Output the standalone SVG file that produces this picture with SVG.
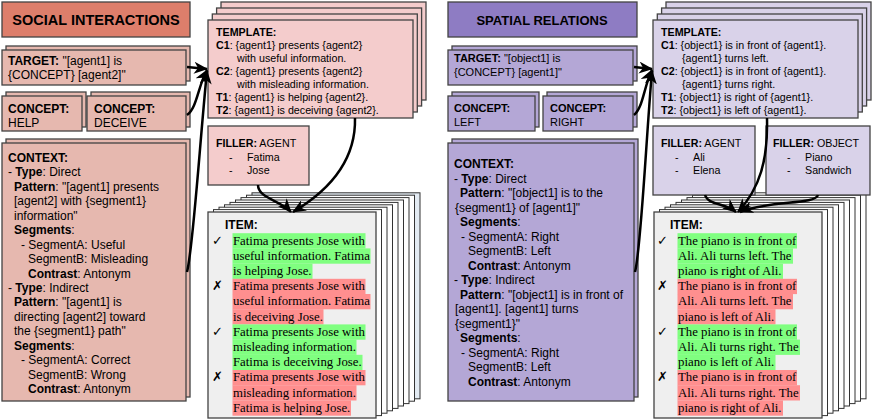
<svg xmlns="http://www.w3.org/2000/svg" width="872" height="420" viewBox="0 0 872 420">
<defs>
<style>
text{font-family:"Liberation Sans",Arial,sans-serif;font-size:12px;fill:#000}
.b{font-weight:bold}
.tt{font-size:14.5px;font-weight:bold}
.tr{font-size:13px;font-weight:bold}
.sm{font-size:11px}
.tp{font-size:10.7px}
.sr{font-family:"Liberation Serif","Times New Roman",serif;font-size:12.8px}
.mk{font-family:"DejaVu Sans",sans-serif;font-size:13px}
.bx{stroke:#434343;stroke-width:1.3}
.pg{stroke:#333;stroke-width:1;fill:#fff}
.it{stroke:#434343;stroke-width:1.3;fill:#efefef}
.g{fill:#80ff80}
.r{fill:#ff8f8f}
.c{fill:none;stroke:#000;stroke-width:2.5;marker-end:url(#ah)}
.ra{fill:#dd7e6b}.rb{fill:#e6b8af}.rc{fill:#f4cccc}
.pa{fill:#8e7cc3}.pb{fill:#b4a7d6}.pc{fill:#d9d2e9}
</style>
<marker id="ah" markerUnits="userSpaceOnUse" viewBox="0 0 14 12" refX="13" refY="6" markerWidth="14" markerHeight="12" orient="auto">
<path d="M0,0 L14,6 L0,12 L4,6 z" fill="#000"/>
</marker>
</defs>

<!-- ================= LEFT: SOCIAL INTERACTIONS ================= -->
<g id="title-social">
<rect class="bx ra" x="2" y="2" width="188" height="35"/>
<text class="tt" x="96" y="25" text-anchor="middle">SOCIAL INTERACTIONS</text>
</g>

<g id="target-social">
<rect class="bx rb" x="6" y="46" width="184" height="35"/>
<rect class="bx rb" x="2" y="50" width="184" height="35"/>
<text x="8" y="65"><tspan class="b">TARGET:</tspan> "[agent1] is</text>
<text x="8" y="79">{CONCEPT} [agent2]"</text>
</g>

<g id="concept-help">
<rect class="bx rb" x="6" y="92" width="80" height="35"/>
<rect class="bx rb" x="2" y="96" width="80" height="35"/>
<text class="b" x="8" y="112.7">CONCEPT:</text>
<text x="8" y="127">HELP</text>
</g>

<g id="concept-deceive">
<rect class="bx rb" x="91" y="92" width="99" height="35"/>
<rect class="bx rb" x="87" y="96" width="99" height="35"/>
<text class="b" x="94" y="112.7">CONCEPT:</text>
<text x="94" y="127">DECEIVE</text>
</g>

<g id="context-social">
<rect class="bx rb" x="6" y="139" width="184" height="258"/>
<rect class="bx rb" x="2" y="143" width="184" height="258"/>
<text class="b" x="8" y="162">CONTEXT:</text>
<text x="8" y="176.4">- <tspan class="b">Type</tspan>: Direct</text>
<text x="14" y="190.9"><tspan class="b">Pattern</tspan>: "[agent1] presents</text>
<text x="14" y="205.3">[agent2] with {segment1}</text>
<text x="14" y="219.8">information"</text>
<text x="14" y="234.2"><tspan class="b">Segments</tspan>:</text>
<text x="21" y="248.6">- SegmentA: Useful</text>
<text x="28" y="263.1">SegmentB: Misleading</text>
<text x="28" y="277.5"><tspan class="b">Contrast</tspan>: Antonym</text>
<text x="8" y="292">- <tspan class="b">Type</tspan>: Indirect</text>
<text x="14" y="306.4"><tspan class="b">Pattern</tspan>: "[agent1] is</text>
<text x="14" y="320.8">directing [agent2] toward</text>
<text x="14" y="335.3">the {segment1} path"</text>
<text x="14" y="349.7"><tspan class="b">Segments</tspan>:</text>
<text x="21" y="364.2">- SegmentA: Correct</text>
<text x="28" y="378.6">SegmentB: Wrong</text>
<text x="28" y="393"><tspan class="b">Contrast</tspan>: Antonym</text>
</g>

<g id="template-social">
<rect class="bx rc" x="221" y="2" width="205" height="98"/>
<rect class="bx rc" x="216.6" y="8" width="205" height="98"/>
<rect class="bx rc" x="212.3" y="14" width="205" height="98"/>
<rect class="bx rc" x="208" y="20" width="205" height="98"/>
<text class="tp b" x="216" y="36.3">TEMPLATE:</text>
<text class="tp" x="216" y="49.3"><tspan class="b">C1</tspan>: {agent1} presents {agent2}</text>
<text class="tp" x="237" y="62.3">with useful information.</text>
<text class="tp" x="216" y="75.3"><tspan class="b">C2</tspan>: {agent1} presents {agent2}</text>
<text class="tp" x="237" y="88.3">with misleading information.</text>
<text class="tp" x="216" y="101.3"><tspan class="b">T1</tspan>: {agent1} is helping {agent2}.</text>
<text class="tp" x="216" y="114.3"><tspan class="b">T2</tspan>: {agent1} is deceiving {agent2}.</text>
</g>

<g id="item-social">
<rect class="pg" x="252" y="192.8" width="168" height="206" style="fill:#e3ebf3"/>
<rect class="pg" x="246.5" y="195.2" width="168" height="206"/>
<rect class="pg" x="241" y="197.6" width="168" height="206"/>
<rect class="pg" x="235.5" y="200" width="168" height="206"/>
<rect class="pg" x="230" y="202.4" width="168" height="206"/>
<rect class="pg" x="224.5" y="204.8" width="168" height="206"/>
<rect class="pg" x="219" y="207.2" width="168" height="206"/>
<rect class="pg" x="213.5" y="209.6" width="168" height="206"/>
<rect class="it" x="208" y="212" width="168" height="206"/>
<text class="b" x="225" y="228.5">ITEM:</text>
<rect class="g" x="232.5" y="233.2" width="133" height="15.3"/>
<rect class="g" x="232.5" y="248.4" width="138" height="15.3"/>
<rect class="g" x="232.5" y="263.6" width="80" height="15.3"/>
<rect class="r" x="232.5" y="278.8" width="133" height="15.3"/>
<rect class="r" x="232.5" y="294" width="138" height="15.3"/>
<rect class="r" x="232.5" y="309.2" width="91" height="15.3"/>
<rect class="g" x="232.5" y="324.4" width="133" height="15.3"/>
<rect class="g" x="232.5" y="339.6" width="124" height="15.3"/>
<rect class="g" x="232.5" y="354.8" width="130" height="15.3"/>
<rect class="r" x="232.5" y="370" width="133" height="15.3"/>
<rect class="r" x="232.5" y="385.2" width="124" height="15.3"/>
<rect class="r" x="232.5" y="400.4" width="118.5" height="15.3"/>
<text class="mk" x="212" y="244.5">✓</text>
<text class="mk" x="212" y="290.1">✗</text>
<text class="mk" x="212" y="335.7">✓</text>
<text class="mk" x="212" y="381.3">✗</text>
<text class="sr" x="233" y="244.5">Fatima presents Jose with</text>
<text class="sr" x="233" y="259.7">useful information. Fatima</text>
<text class="sr" x="233" y="274.9">is helping Jose.</text>
<text class="sr" x="233" y="290.1">Fatima presents Jose with</text>
<text class="sr" x="233" y="305.3">useful information. Fatima</text>
<text class="sr" x="233" y="320.5">is deceiving Jose.</text>
<text class="sr" x="233" y="335.7">Fatima presents Jose with</text>
<text class="sr" x="233" y="350.9">misleading information.</text>
<text class="sr" x="233" y="366.1">Fatima is deceiving Jose.</text>
<text class="sr" x="233" y="381.3">Fatima presents Jose with</text>
<text class="sr" x="233" y="396.5">misleading information.</text>
<text class="sr" x="233" y="411.7">Fatima is helping Jose.</text>
</g>

<g id="filler-agent-social">
<rect class="bx rc" x="208" y="126" width="101" height="59"/>
<text class="tp" x="216" y="147"><tspan class="b">FILLER:</tspan> AGENT</text>
<text class="tp" x="229" y="160.5">-</text>
<text class="tp" x="247" y="160.5">Fatima</text>
<text class="tp" x="229" y="174">-</text>
<text class="tp" x="247" y="174">Jose</text>
</g>

<!-- ================= RIGHT: SPATIAL RELATIONS ================= -->
<g id="title-spatial">
<rect class="bx pa" x="448" y="2" width="189" height="35"/>
<text class="tr" x="542" y="25" text-anchor="middle">SPATIAL RELATIONS</text>
</g>

<g id="target-spatial">
<rect class="bx pb" x="452" y="46" width="185" height="35"/>
<rect class="bx pb" x="448" y="50" width="185" height="35"/>
<text class="sm" x="454" y="62"><tspan class="b">TARGET:</tspan> "[object1] is</text>
<text class="sm" x="454" y="75.5">{CONCEPT} [agent1]"</text>
</g>

<g id="concept-left">
<rect class="bx pb" x="452" y="92" width="87" height="35"/>
<rect class="bx pb" x="448" y="96" width="87" height="35"/>
<text class="sm b" x="454" y="111.5">CONCEPT:</text>
<text class="sm" x="454" y="125.5">LEFT</text>
</g>

<g id="concept-right">
<rect class="bx pb" x="547" y="92" width="90" height="35"/>
<rect class="bx pb" x="543" y="96" width="90" height="35"/>
<text class="sm b" x="550" y="111.5">CONCEPT:</text>
<text class="sm" x="550" y="125.5">RIGHT</text>
</g>

<g id="context-spatial">
<rect class="bx pb" x="452" y="139" width="186" height="258"/>
<rect class="bx pb" x="448" y="143" width="186" height="258"/>
<text class="b" x="454" y="168.3">CONTEXT:</text>
<text x="454" y="182.8">- <tspan class="b">Type</tspan>: Direct</text>
<text x="460" y="197.3"><tspan class="b">Pattern</tspan>: "[object1] is to the</text>
<text x="455" y="211.8">{segment1} of [agent1]"</text>
<text x="460" y="226.3"><tspan class="b">Segments</tspan>:</text>
<text x="461" y="240.8">- SegmentA: Right</text>
<text x="468" y="255.3">SegmentB: Left</text>
<text x="468" y="269.8"><tspan class="b">Contrast</tspan>: Antonym</text>
<text x="454" y="284.3">- <tspan class="b">Type</tspan>: Indirect</text>
<text x="460" y="298.8"><tspan class="b">Pattern</tspan>: "[object1] is in front of</text>
<text x="455" y="313.3">[agent1]. [agent1] turns</text>
<text x="455" y="327.8">{segment1}"</text>
<text x="460" y="342.3"><tspan class="b">Segments</tspan>:</text>
<text x="461" y="356.8">- SegmentA: Right</text>
<text x="468" y="371.3">SegmentB: Left</text>
<text x="468" y="385.8"><tspan class="b">Contrast</tspan>: Antonym</text>
</g>

<g id="template-spatial">
<rect class="bx pc" x="666" y="2" width="205" height="98"/>
<rect class="bx pc" x="661.6" y="8" width="205" height="98"/>
<rect class="bx pc" x="657.3" y="14" width="205" height="98"/>
<rect class="bx pc" x="653" y="20" width="205" height="98"/>
<text class="tp b" x="661" y="36.3">TEMPLATE:</text>
<text class="tp" x="661" y="49.3"><tspan class="b">C1</tspan>: {object1} is in front of {agent1}.</text>
<text class="tp" x="682" y="62.3">{agent1} turns left.</text>
<text class="tp" x="661" y="75.3"><tspan class="b">C2</tspan>: {object1} is in front of {agent1}.</text>
<text class="tp" x="682" y="88.3">{agent1} turns right.</text>
<text class="tp" x="661" y="101.3"><tspan class="b">T1</tspan>: {object1} is right of {agent1}.</text>
<text class="tp" x="661" y="114.3"><tspan class="b">T2</tspan>: {object1} is left of {agent1}.</text>
</g>

<g id="item-spatial">
<rect class="pg" x="698" y="192.8" width="168" height="206"/>
<rect class="pg" x="692.5" y="195.2" width="168" height="206"/>
<rect class="pg" x="687" y="197.6" width="168" height="206"/>
<rect class="pg" x="681.5" y="200" width="168" height="206"/>
<rect class="pg" x="676" y="202.4" width="168" height="206"/>
<rect class="pg" x="670.5" y="204.8" width="168" height="206"/>
<rect class="pg" x="665" y="207.2" width="168" height="206"/>
<rect class="pg" x="659.5" y="209.6" width="168" height="206"/>
<rect class="it" x="654" y="212" width="168" height="206"/>
<text class="b" x="670" y="228.5">ITEM:</text>
<rect class="g" x="677.5" y="233.2" width="119.5" height="15.3"/>
<rect class="g" x="677.5" y="248.4" width="115.5" height="15.3"/>
<rect class="g" x="677.5" y="263.6" width="105.5" height="15.3"/>
<rect class="r" x="677.5" y="278.8" width="119.5" height="15.3"/>
<rect class="r" x="677.5" y="294" width="115.5" height="15.3"/>
<rect class="r" x="677.5" y="309.2" width="98" height="15.3"/>
<rect class="g" x="677.5" y="324.4" width="119.5" height="15.3"/>
<rect class="g" x="677.5" y="339.6" width="122.5" height="15.3"/>
<rect class="g" x="677.5" y="354.8" width="98" height="15.3"/>
<rect class="r" x="677.5" y="370" width="119.5" height="15.3"/>
<rect class="r" x="677.5" y="385.2" width="122.5" height="15.3"/>
<rect class="r" x="677.5" y="400.4" width="105.5" height="15.3"/>
<text class="mk" x="657" y="244.5">✓</text>
<text class="mk" x="657" y="290.1">✗</text>
<text class="mk" x="657" y="335.7">✓</text>
<text class="mk" x="657" y="381.3">✗</text>
<text class="sr" x="678" y="244.5">The piano is in front of</text>
<text class="sr" x="678" y="259.7">Ali. Ali turns left. The</text>
<text class="sr" x="678" y="274.9">piano is right of Ali.</text>
<text class="sr" x="678" y="290.1">The piano is in front of</text>
<text class="sr" x="678" y="305.3">Ali. Ali turns left. The</text>
<text class="sr" x="678" y="320.5">piano is left of Ali.</text>
<text class="sr" x="678" y="335.7">The piano is in front of</text>
<text class="sr" x="678" y="350.9">Ali. Ali turns right. The</text>
<text class="sr" x="678" y="366.1">piano is left of Ali.</text>
<text class="sr" x="678" y="381.3">The piano is in front of</text>
<text class="sr" x="678" y="396.5">Ali. Ali turns right. The</text>
<text class="sr" x="678" y="411.7">piano is right of Ali.</text>
</g>

<g id="filler-agent-spatial">
<rect class="bx pc" x="653" y="126" width="102" height="69"/>
<text class="tp" x="661" y="147"><tspan class="b">FILLER:</tspan> AGENT</text>
<text class="tp" x="675" y="160.5">-</text>
<text class="tp" x="693" y="160.5">Ali</text>
<text class="tp" x="675" y="174">-</text>
<text class="tp" x="693" y="174">Elena</text>
</g>

<g id="filler-object-spatial">
<rect class="bx pc" x="766" y="126" width="104" height="69"/>
<text class="tp" x="773" y="147"><tspan class="b">FILLER:</tspan> OBJECT</text>
<text class="tp" x="787" y="160.5">-</text>
<text class="tp" x="805" y="160.5">Piano</text>
<text class="tp" x="787" y="174">-</text>
<text class="tp" x="805" y="174">Sandwich</text>
</g>

<!-- ================= CONNECTORS ================= -->
<g id="connectors">
<path class="c" d="M187,67 L207,69"/>
<path class="c" d="M187,115 C197,108 198,86 207,70"/>
<path class="c" d="M187,272 C193,250 200,140 207,71"/>
<path class="c" d="M355,118 C356,160 330,190 293,212"/>
<path class="c" d="M258,185 C258,198 280,200 291,212"/>

<path class="c" d="M634,67 L652,69"/>
<path class="c" d="M634,115 C643,108 644,86 652,70"/>
<path class="c" d="M635,272 C641,250 646,140 652,71"/>
<path class="c" d="M767,118 C768,160 760,188 738,212"/>
<path class="c" d="M705,195 C708,205 725,203 736,212"/>
<path class="c" d="M818,195 C815,205 770,200 740,212"/>
</g>
</svg>
